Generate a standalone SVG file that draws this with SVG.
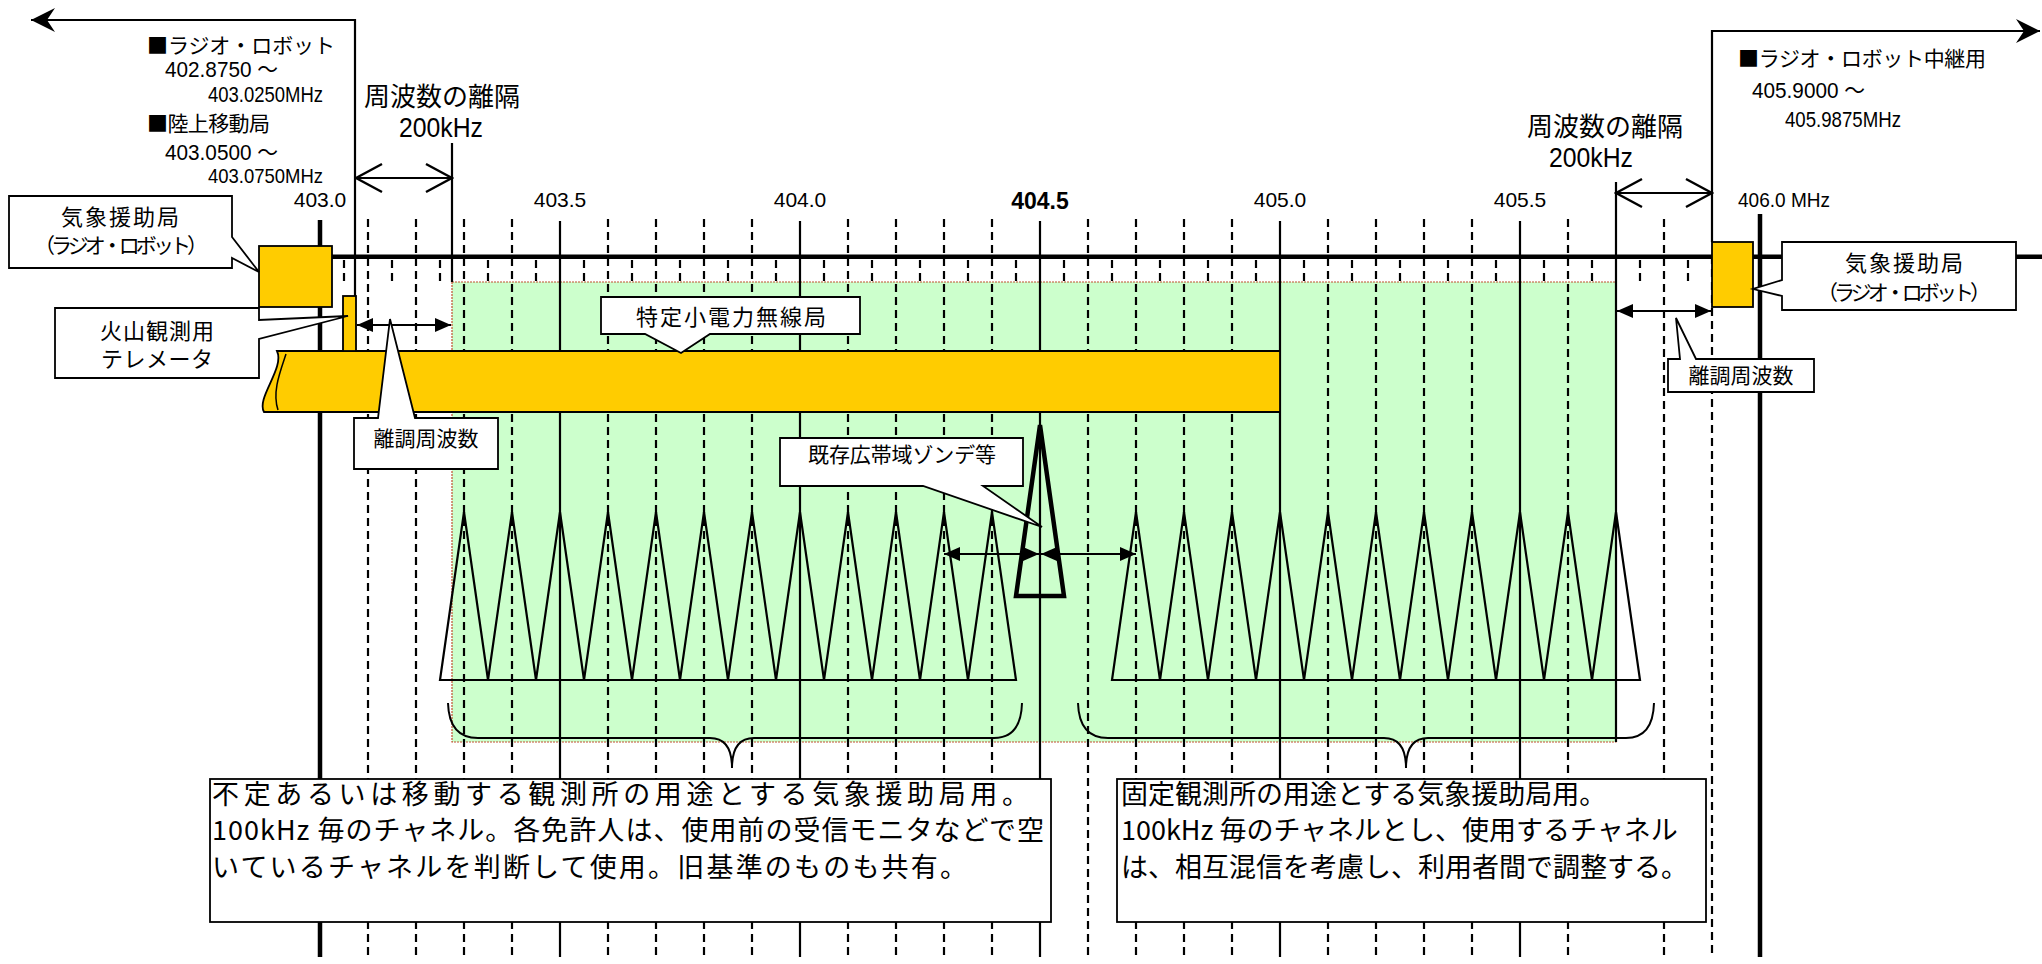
<svg xmlns="http://www.w3.org/2000/svg" width="2042" height="964" viewBox="0 0 2042 964">
<style>
.t{font-family:"Liberation Sans","Noto Sans CJK JP",sans-serif;fill:#000}
.j{font-family:"Noto Sans CJK JP","Liberation Sans",sans-serif;fill:#000}
.lab{font-size:21px}
.num{font-size:22px}
.box{fill:#fff;stroke:#000;stroke-width:1.8}
.yel{fill:#FFCC00;stroke:#000;stroke-width:1.8}
.dash{stroke:#000;stroke-width:2.2;stroke-dasharray:8 5;fill:none}
.sol{stroke:#000;stroke-width:2.2;fill:none}
.thick{stroke:#000;stroke-width:4.5;fill:none}
.ln{stroke:#000;stroke-width:2.2;fill:none}
.tri{stroke:#000;stroke-width:2.2;fill:none;stroke-linejoin:miter}
</style>
<defs>
<marker id="big" viewBox="0 0 26 26" refX="25" refY="13" markerWidth="26" markerHeight="26" markerUnits="userSpaceOnUse" orient="auto-start-reverse">
<path d="M25,13 L1,1 L9,13 L1,25 Z" fill="#000"/>
</marker>
<marker id="chev" viewBox="0 0 30 32" refX="28" refY="16" markerWidth="30" markerHeight="32" markerUnits="userSpaceOnUse" orient="auto-start-reverse">
<path d="M2,2 L28,16 L2,30" fill="none" stroke="#000" stroke-width="2.5"/>
</marker>
<marker id="fil" viewBox="0 0 16 16" refX="16" refY="8" markerWidth="16" markerHeight="16" markerUnits="userSpaceOnUse" orient="auto-start-reverse">
<path d="M16,8 L0,1 L0,15 Z" fill="#000"/>
</marker>
</defs>
<rect width="2042" height="964" fill="#fff"/>

<g id="band">
<rect x="452" y="282" width="1164" height="460" fill="#CCFFCC" stroke="#C05030" stroke-width="1.2" stroke-dasharray="2 1"/>
</g>

<g id="grid">
<path class="dash" d="M368,219V957M416,219V957M464,219V957M512,219V957M608,219V957M656,219V957M704,219V957M752,219V957M848,219V957M896,219V957M944,219V957M992,219V957M1088,219V957M1136,219V957M1184,219V957M1232,219V957M1328,219V957M1376,219V957M1424,219V957M1472,219V957M1568,219V957M1664,219V957M1712,256V957"/>
<path class="dash" d="M344,260V281M392,260V281M440,260V281M488,260V281M536,260V281M584,260V281M632,260V281M680,260V281M728,260V281M776,260V281M824,260V281M872,260V281M920,260V281M968,260V281M1016,260V281M1064,260V281M1112,260V281M1160,260V281M1208,260V281M1256,260V281M1304,260V281M1352,260V281M1400,260V281M1448,260V281M1496,260V281M1544,260V281M1592,260V281M1640,260V281M1688,260V281"/>
<path class="sol" d="M560,221V957M800,221V957M1040,221V957M1280,221V957M1520,221V957"/>
<path class="thick" d="M320,220V957M1760,214V957"/>
<path class="sol" d="M452,143V282M1616,182V742"/>
<path d="M332,256.7H2042" stroke="#000" stroke-width="4.5"/>
</g>

<g id="channels">
<path class="tri" d="M440,680L464,512L488,680L512,512L536,680L560,512L584,680L608,512L632,680L656,512L680,680L704,512L728,680L752,512L776,680L800,512L824,680L848,512L872,680L896,512L920,680L944,512L968,680L992,512L1016,680ZM1112,680L1136,512L1160,680L1184,512L1208,680L1232,512L1256,680L1280,512L1304,680L1328,512L1352,680L1376,512L1400,680L1424,512L1448,680L1472,512L1496,680L1520,512L1544,680L1568,512L1592,680L1616,512L1640,680Z"/>
<path d="M1016,596L1040,425L1064,596Z" fill="none" stroke="#000" stroke-width="4.5" stroke-linejoin="miter"/>
</g>

<g id="connectors">
<path class="ln" d="M355,351V20H31" marker-end="url(#big)"/>
<path class="ln" d="M1712,242V31H2040" marker-end="url(#big)"/>
<path class="ln" d="M356,178H452" marker-start="url(#chev)" marker-end="url(#chev)"/>
<path class="ln" d="M1616,193H1712" marker-start="url(#chev)" marker-end="url(#chev)"/>
<path class="ln" d="M357,325H451" marker-start="url(#fil)" marker-end="url(#fil)"/>
<path class="ln" d="M1617,311H1711" marker-start="url(#fil)" marker-end="url(#fil)"/>
<path class="ln" d="M944,554H1039" marker-start="url(#fil)" marker-end="url(#fil)"/>
<path class="ln" d="M1041,554H1136" marker-start="url(#fil)" marker-end="url(#fil)"/>
<path d="M448,703Q449,738 478,738H710Q732,738 732,768Q732,738 754,738H994Q1021,738 1022,703" fill="none" stroke="#000" stroke-width="2"/>
<path d="M1078,703Q1079,738 1108,738H1384Q1406,738 1406,768Q1406,738 1428,738H1626Q1653,738 1654,703" fill="none" stroke="#000" stroke-width="2"/>
</g>

<g id="bar-tokutei">
<path class="yel" d="M277,351H1280V412H264C256,398 285,368 277,351Z"/>
<path d="M286,354C280,372 272,392 278,410" fill="none" stroke="#000" stroke-width="1.5"/>
</g>

<g id="box-kisho-left">
<rect class="yel" x="259" y="246" width="73" height="61"/>
</g>
<g id="bar-kazan">
<rect class="yel" x="343" y="296" width="13" height="55"/>
</g>
<g id="box-kisho-right">
<rect class="yel" x="1712" y="242" width="41" height="65"/>
</g>

<g id="label-top-left">
<text class="j" font-size="21" x="147" y="53" textLength="188">■ラジオ・ロボット</text>
<text class="t num" x="165" y="77" textLength="113" lengthAdjust="spacingAndGlyphs">402.8750 ～</text>
<text class="t num" x="208" y="102" textLength="115" lengthAdjust="spacingAndGlyphs">403.0250MHz</text>
<text class="j" font-size="21" x="147" y="131" textLength="123">■陸上移動局</text>
<text class="t num" x="165" y="160" textLength="113" lengthAdjust="spacingAndGlyphs">403.0500 ～</text>
<text class="t" font-size="21" x="208" y="183" textLength="115" lengthAdjust="spacingAndGlyphs">403.0750MHz</text>
</g>
<g id="label-top-right">
<text class="j" font-size="21" x="1738" y="66" textLength="248">■ラジオ・ロボット中継用</text>
<text class="t num" x="1752" y="98" textLength="113" lengthAdjust="spacingAndGlyphs">405.9000 ～</text>
<text class="t num" x="1785" y="127" textLength="116" lengthAdjust="spacingAndGlyphs">405.9875MHz</text>
</g>
<g id="label-sep-left">
<text class="j" font-size="26" x="442" y="106" text-anchor="middle">周波数の離隔</text>
<text class="t" font-size="27" x="441" y="137" text-anchor="middle" textLength="84" lengthAdjust="spacingAndGlyphs">200kHz</text>
</g>
<g id="label-sep-right">
<text class="j" font-size="26" x="1605" y="136" text-anchor="middle">周波数の離隔</text>
<text class="t" font-size="27" x="1591" y="167" text-anchor="middle" textLength="84" lengthAdjust="spacingAndGlyphs">200kHz</text>
</g>
<g id="freq-labels">
<text class="t lab" x="320" y="207" text-anchor="middle">403.0</text>
<text class="t lab" x="560" y="207" text-anchor="middle">403.5</text>
<text class="t lab" x="800" y="207" text-anchor="middle">404.0</text>
<text class="t" font-size="23" font-weight="bold" x="1040" y="209" text-anchor="middle">404.5</text>
<text class="t lab" x="1280" y="207" text-anchor="middle">405.0</text>
<text class="t lab" x="1520" y="207" text-anchor="middle">405.5</text>
<text class="t lab" x="1738" y="207" textLength="92" lengthAdjust="spacingAndGlyphs">406.0 MHz</text>
</g>

<g id="callout-kisho-left">
<path class="box" d="M9,196H232V237L259,272L232,258V268H9Z"/>
<text class="j" font-size="22" x="120" y="225" text-anchor="middle" textLength="118">気象援助局</text>
<text class="j" font-size="21" x="121" y="253" text-anchor="middle" textLength="174">（ラジオ・ロボット）</text>
</g>
<g id="callout-kazan">
<path class="box" d="M55,308H259V320L348,316L259,339V378H55Z"/>
<text class="j" font-size="22" x="157" y="339" text-anchor="middle" textLength="114">火山観測用</text>
<text class="j" font-size="22" x="157" y="367" text-anchor="middle" textLength="112">テレメータ</text>
</g>
<g id="callout-tokutei">
<path class="box" d="M601,297H860V334H710L681,353L645,334H601Z"/>
<text class="j" font-size="22" x="731" y="325" text-anchor="middle" textLength="190">特定小電力無線局</text>
</g>
<g id="callout-richo-left">
<path class="box" d="M354,418H378L390,319L415,418H498V469H354Z"/>
<text class="j" font-size="21" x="426" y="446" text-anchor="middle">離調周波数</text>
</g>
<g id="callout-sonde">
<path class="box" d="M780,438H1023V486H983L1042,527L923,486H780Z"/>
<text class="j" font-size="21" x="902" y="462" text-anchor="middle" textLength="188">既存広帯域ゾンデ等</text>
</g>
<g id="callout-richo-right">
<path class="box" d="M1668,359H1680L1676,318L1696,359H1814V392H1668Z"/>
<text class="j" font-size="21" x="1741" y="383" text-anchor="middle">離調周波数</text>
</g>
<g id="callout-kisho-right">
<path class="box" d="M1782,242H2016V310H1782V296L1753,289L1782,280Z"/>
<text class="j" font-size="22" x="1904" y="271" text-anchor="middle" textLength="118">気象援助局</text>
<text class="j" font-size="21" x="1904" y="300" text-anchor="middle" textLength="174">（ラジオ・ロボット）</text>
</g>

<g id="note-left">
<rect class="box" x="210" y="779" width="841" height="143"/>
<text class="j" font-size="27" x="212" y="804" textLength="817">不定あるいは移動する観測所の用途とする気象援助局用。</text>
<text class="j" font-size="27" x="212" y="840" textLength="832">100kHz 毎のチャネル。各免許人は、使用前の受信モニタなどで空</text>
<text class="j" font-size="27" x="212" y="877" textLength="755">いているチャネルを判断して使用。旧基準のものも共有。</text>
</g>
<g id="note-right">
<rect class="box" x="1117" y="779" width="589" height="143"/>
<text class="j" font-size="27" x="1121" y="804">固定観測所の用途とする気象援助局用。</text>
<text class="j" font-size="27" x="1121" y="840">100kHz 毎のチャネルとし、使用するチャネル</text>
<text class="j" font-size="27" x="1121" y="877">は、相互混信を考慮し、利用者間で調整する。</text>
</g>
</svg>
